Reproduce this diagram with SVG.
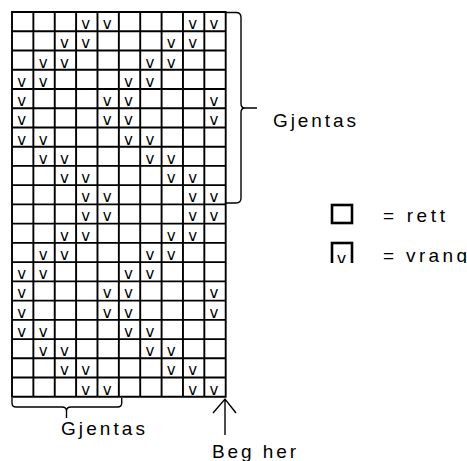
<svg xmlns="http://www.w3.org/2000/svg" width="467" height="461" viewBox="0 0 467 461">
<style>
.grid{fill:none;stroke:#000;stroke-width:1.9}
.v{font-family:"DejaVu Sans",sans-serif;font-size:15px;fill:#000;text-anchor:middle}
.lbl{font-family:"Liberation Sans",Arial,sans-serif;font-size:19px;fill:#000}
.br{fill:none;stroke:#000;stroke-width:1.4}
.box{fill:#fff;stroke:#000;stroke-width:2.6}
</style>
<defs>
<clipPath id="legclip"><rect x="320" y="236" width="147" height="27"/></clipPath>
</defs>
<rect width="467" height="461" fill="#fff"/>
<g id="chart">
<path class="grid" d="M12,12H225.7V396.8H12Z M33.37,12V396.8 M54.74,12V396.8 M76.11,12V396.8 M97.48,12V396.8 M118.85,12V396.8 M140.22,12V396.8 M161.59,12V396.8 M182.96,12V396.8 M204.33,12V396.8 M12,31.24H225.7 M12,50.48H225.7 M12,69.72H225.7 M12,88.96H225.7 M12,108.2H225.7 M12,127.44H225.7 M12,146.68H225.7 M12,165.92H225.7 M12,185.16H225.7 M12,204.4H225.7 M12,223.64H225.7 M12,242.88H225.7 M12,262.12H225.7 M12,281.36H225.7 M12,300.6H225.7 M12,319.84H225.7 M12,339.08H225.7 M12,358.32H225.7 M12,377.56H225.7"/>
<g id="marks">
<text class="v" y="29" x="85.8 107.2 192.6 214">vvvv</text>
<text class="v" y="48.3" x="64.4 85.8 171.3 192.6">vvvv</text>
<text class="v" y="67.5" x="43.1 64.4 149.9 171.3">vvvv</text>
<text class="v" y="86.8" x="21.7 43.1 128.5 149.9">vvvv</text>
<text class="v" y="106" x="21.7 107.2 128.5 214">vvvv</text>
<text class="v" y="125.2" x="21.7 107.2 128.5 214">vvvv</text>
<text class="v" y="144.5" x="21.7 43.1 128.5 149.9">vvvv</text>
<text class="v" y="163.7" x="43.1 64.4 149.9 171.3">vvvv</text>
<text class="v" y="183" x="64.4 85.8 171.3 192.6">vvvv</text>
<text class="v" y="202.2" x="85.8 107.2 192.6 214">vvvv</text>
<text class="v" y="221.4" x="85.8 107.2 192.6 214">vvvv</text>
<text class="v" y="240.7" x="64.4 85.8 171.3 192.6">vvvv</text>
<text class="v" y="259.9" x="43.1 64.4 149.9 171.3">vvvv</text>
<text class="v" y="279.2" x="21.7 43.1 128.5 149.9">vvvv</text>
<text class="v" y="298.4" x="21.7 107.2 128.5 214">vvvv</text>
<text class="v" y="317.6" x="21.7 107.2 128.5 214">vvvv</text>
<text class="v" y="336.9" x="21.7 43.1 128.5 149.9">vvvv</text>
<text class="v" y="356.1" x="43.1 64.4 149.9 171.3">vvvv</text>
<text class="v" y="375.4" x="64.4 85.8 171.3 192.6">vvvv</text>
<text class="v" y="394.6" x="85.8 107.2 192.6 214">vvvv</text>
</g>
</g>
<g id="connectors">
<path class="br" d="M226,12.5H236Q241,12.5 241,17.5V103.5Q241,108 245,108H257M245,108Q241,108 241,112.5V198Q241,203 236,203H226"/>
<path class="br" d="M12,398V403Q12,407 16,407H62Q66.5,407 66.5,411V418M66.5,411Q66.5,407 71,407H117.5Q121.7,407 121.7,403V398"/>
<path class="br" d="M225,399V435M213,413L225,399L236,413"/>
</g>
<g id="label-repeat-right"><text class="lbl" x="273" y="127" textLength="83" lengthAdjust="spacing">Gjentas</text></g>
<g id="label-repeat-bottom"><text class="lbl" x="61" y="435" textLength="84" lengthAdjust="spacing">Gjentas</text></g>
<g id="label-start"><text class="lbl" x="212" y="458" textLength="84" lengthAdjust="spacing">Beg her</text></g>
<g id="legend-rett">
<rect class="box" x="332" y="205" width="20" height="18"/>
<text class="lbl" x="383" y="222" textLength="62" lengthAdjust="spacing">= rett</text>
</g>
<g id="legend-vrang" clip-path="url(#legclip)">
<rect class="box" x="332" y="243" width="20" height="24"/>
<text class="v" x="341.5" y="264" style="font-size:16px">v</text>
<text class="lbl" x="383" y="262" textLength="84" lengthAdjust="spacing">= vrang</text>
</g>
</svg>
